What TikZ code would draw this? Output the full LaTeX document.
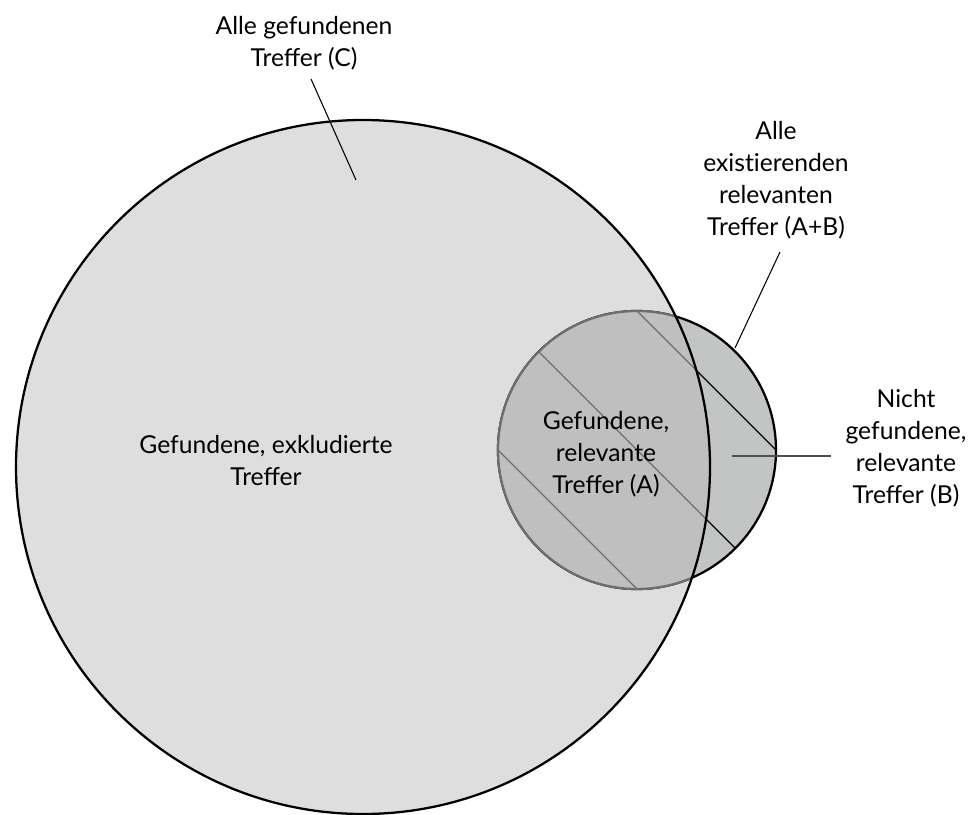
\documentclass[tikz,border=0pt]{standalone}
\usepackage{fontspec}
\setmainfont{Lato}
\definecolor{fillC}{HTML}{DEDEDE}
\definecolor{fillA}{HTML}{BFBFBF}
\definecolor{fillB}{HTML}{C3C5C4}
\definecolor{lineA}{HTML}{6E6E6E}
\definecolor{lineB}{HTML}{505050}
\begin{document}
\begin{tikzpicture}[x=0.75pt,y=-0.75pt,font=\fontsize{18.5}{24}\selectfont,
	lbl/.style={align=center, inner sep=0pt, anchor=base},
	leader/.style={line width=0.8pt},
	hatch/.style={line width=0.8pt}]
	\useasboundingbox (0,0) rectangle (978,814);
	\coordinate (big) at (363,467);
	\coordinate (small) at (637,450);
	% Alle gefundenen Treffer
	\fill[fillC] (big) circle[radius=347];
	% nicht gefundene (B)
	\draw[fill=fillB, line width=1.7pt] (small) circle[radius=139];
	\begin{scope}
		\clip (small) circle[radius=139];
		\draw[hatch] (298,250) -- (698,650);
		\draw[hatch] (437,250) -- (837,650);
		\draw[hatch] (576,250) -- (976,650);
	\end{scope}
	% gefundene, relevante (A)
	\begin{scope}
		\clip (big) circle[radius=347];
		\draw[fill=fillA, draw=lineA, line width=1.7pt] (small) circle[radius=139];
		\clip (small) circle[radius=139];
		\draw[hatch, lineA] (298,250) -- (698,650);
		\draw[hatch, lineA] (437,250) -- (837,650);
		\draw[hatch, lineA] (576,250) -- (976,650);
	\end{scope}
	\draw[line width=1.7pt] (big) circle[radius=347];
	% Texte
	\node[lbl] (alleC) at (304,66) {Alle gefundenen\\Treffer (C)};
	\node[lbl] (alleAB) at (776,235) {Alle\\exist\kern0pt ierenden\\relevanten\\Treffer (A+B)};
	\node[lbl] (nichtB) at (906,503) {Nicht\\gefundene,\\relevante\\Treffer (B)};
	\node[lbl] (gefA) at (606,493) {Gefundene,\\relevante\\Treffer (A)};
	\node[lbl] (exkl) at (266,485) {Gefundene, exkludierte\\Treffer};
	% Linien
	\coordinate (cFrom) at (311,79);
	\coordinate (cTo) at (356,180);
	\coordinate (abFrom) at (780,252);
	\coordinate (abTo) at (735,348);
	\coordinate (bFrom) at (831,456);
	\coordinate (bTo) at (732,456);
	\draw[leader] (cFrom) -- (cTo);
	\draw[leader] (abFrom) -- (abTo);
	\draw[leader, lineB, line width=1pt] (bFrom) -- (bTo);
\end{tikzpicture}
\end{document}
